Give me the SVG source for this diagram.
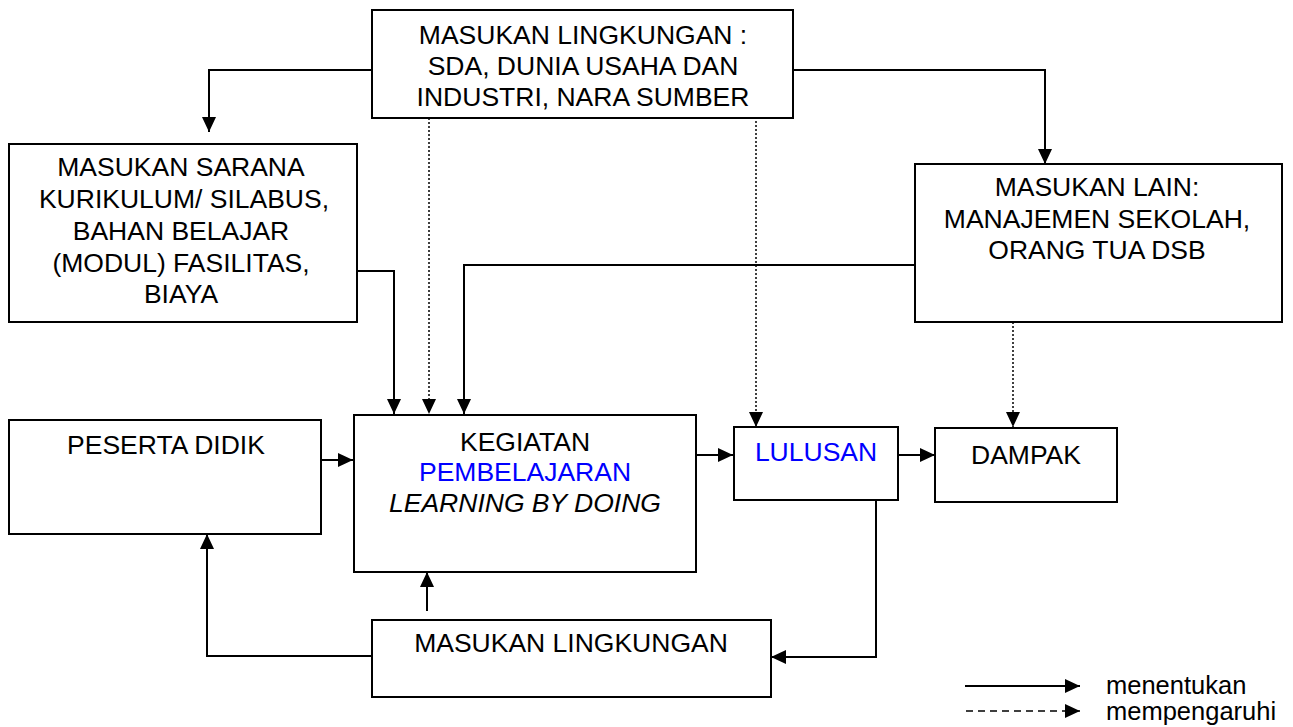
<svg xmlns="http://www.w3.org/2000/svg" width="1293" height="727" viewBox="0 0 1293 727">
<style>
.box{fill:#fff;stroke:#000;stroke-width:2}
.t{font-family:"Liberation Sans",Arial,sans-serif;font-size:26.5px;fill:#000;text-anchor:middle;dominant-baseline:central}
.blue{fill:#0000ff}
.c{fill:none;stroke:#000;stroke-width:2}
.d{fill:none;stroke:#000;stroke-width:1.5;stroke-dasharray:2,2}
.dl{fill:none;stroke:#000;stroke-width:1.5;stroke-dasharray:7,5}
.lg{font-family:"Liberation Sans",Arial,sans-serif;font-size:25.5px;fill:#000;dominant-baseline:central}
</style>
<defs>
<marker id="ah" markerUnits="userSpaceOnUse" markerWidth="16" markerHeight="14" refX="15" refY="7" orient="auto">
<path d="M0,0 L15,7 L0,14 Z" fill="#000"/>
</marker>
</defs>
<rect width="1293" height="727" fill="#fff"/>
<g id="connectors">
<polyline class="c" points="372,70 209,70 209,132" marker-end="url(#ah)"/>
<polyline class="c" points="793,70 1045,70 1045,164" marker-end="url(#ah)"/>
<line class="d" x1="429" y1="118" x2="429" y2="414" marker-end="url(#ah)"/>
<line class="d" x1="756" y1="113" x2="756" y2="427" marker-end="url(#ah)"/>
<polyline class="c" points="357,271 394,271 394,414" marker-end="url(#ah)"/>
<polyline class="c" points="915,265 464,265 464,414" marker-end="url(#ah)"/>
<line class="d" x1="1013" y1="322" x2="1013" y2="427" marker-end="url(#ah)"/>
<line class="c" x1="321" y1="460" x2="353" y2="460" marker-end="url(#ah)"/>
<line class="c" x1="696" y1="455" x2="733" y2="455" marker-end="url(#ah)"/>
<line class="c" x1="898" y1="455" x2="935" y2="455" marker-end="url(#ah)"/>
<polyline class="c" points="876,500 876,657 771,657" marker-end="url(#ah)"/>
<line class="c" x1="427" y1="611" x2="427" y2="572" marker-end="url(#ah)"/>
<polyline class="c" points="374,656 207,656 207,534" marker-end="url(#ah)"/>
</g>
<g id="node-top">
<rect class="box" x="372" y="10" width="421" height="108"/>
<text class="t" x="583" y="35">MASUKAN LINGKUNGAN :</text>
<text class="t" x="583" y="66">SDA, DUNIA USAHA DAN</text>
<text class="t" x="583" y="97">INDUSTRI, NARA SUMBER</text>
</g>
<g id="node-sarana">
<rect class="box" x="9" y="144" width="348" height="178"/>
<text class="t" x="181" y="167">MASUKAN SARANA</text>
<text class="t" x="184" y="199">KURIKULUM/ SILABUS,</text>
<text class="t" x="181" y="231">BAHAN BELAJAR</text>
<text class="t" x="181" y="263">(MODUL) FASILITAS,</text>
<text class="t" x="181" y="294">BIAYA</text>
</g>
<g id="node-lain">
<rect class="box" x="915" y="164" width="367" height="158"/>
<text class="t" x="1097" y="187">MASUKAN LAIN:</text>
<text class="t" x="1097" y="219">MANAJEMEN SEKOLAH,</text>
<text class="t" x="1097" y="250">ORANG TUA DSB</text>
</g>
<g id="node-peserta">
<rect class="box" x="9" y="420" width="312" height="114"/>
<text class="t" x="166" y="445">PESERTA DIDIK</text>
</g>
<g id="node-kegiatan">
<rect class="box" x="354" y="415" width="342" height="157"/>
<text class="t" x="525" y="442">KEGIATAN</text>
<text class="t blue" x="525" y="472">PEMBELAJARAN</text>
<text class="t" x="525" y="503" font-style="italic">LEARNING BY DOING</text>
</g>
<g id="node-lulusan">
<rect class="box" x="734" y="427" width="164" height="73"/>
<text class="t blue" x="816" y="452">LULUSAN</text>
</g>
<g id="node-dampak">
<rect class="box" x="935" y="428" width="182" height="74"/>
<text class="t" x="1026" y="455">DAMPAK</text>
</g>
<g id="node-lingkungan">
<rect class="box" x="372" y="620" width="399" height="77"/>
<text class="t" x="571" y="643">MASUKAN LINGKUNGAN</text>
</g>
<g id="legend">
<line class="c" x1="965" y1="686" x2="1080" y2="686" stroke-width="1.5" marker-end="url(#ah)"/>
<line class="dl" x1="966" y1="711" x2="1080" y2="711" marker-end="url(#ah)"/>
<text class="lg" x="1106" y="685">menentukan</text>
<text class="lg" x="1106" y="711">mempengaruhi</text>
</g>
</svg>
